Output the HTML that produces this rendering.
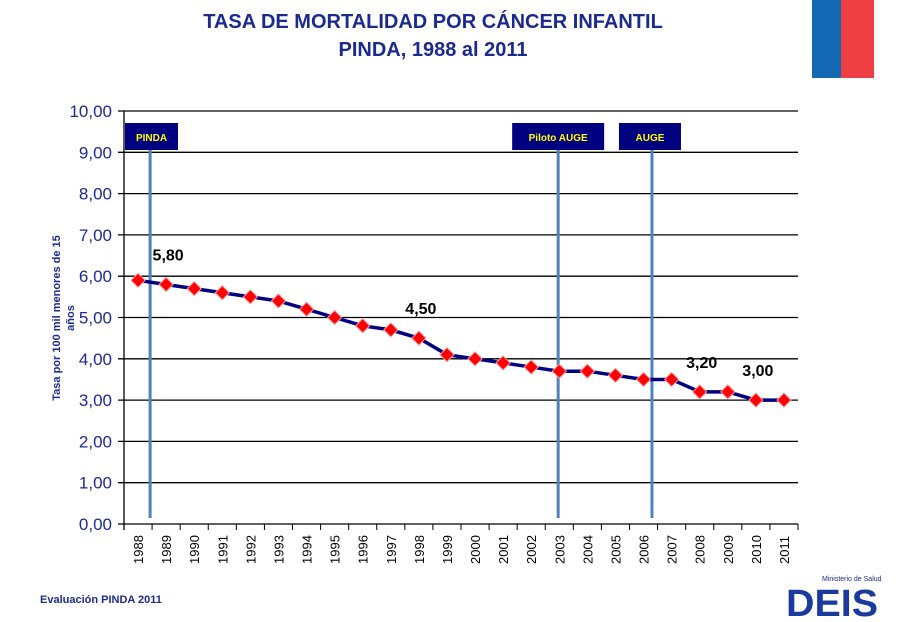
<!DOCTYPE html>
<html><head><meta charset="utf-8"><style>
body{margin:0;background:#fff;width:911px;height:617px;overflow:hidden;font-family:"Liberation Sans",sans-serif}
</style></head><body>
<svg width="911" height="617" xmlns="http://www.w3.org/2000/svg">
<rect x="812" y="0" width="29" height="78" fill="#1268b3"/>
<rect x="841" y="0" width="33" height="78" fill="#ee3e42"/>
<text x="433" y="28" text-anchor="middle" font-size="20" font-weight="bold" fill="#1b2a8f">TASA DE MORTALIDAD POR CÁNCER INFANTIL</text>
<text x="433" y="56" text-anchor="middle" font-size="20" font-weight="bold" fill="#1b2a8f">PINDA, 1988 al 2011</text>
<g id="grid"></g><g id="plot"></g>
<text transform="translate(60,318) rotate(-90)" text-anchor="middle" font-size="11" font-weight="bold" fill="#1b2a8f">Tasa por 100 mil menores de 15</text>
<text transform="translate(74,318) rotate(-90)" text-anchor="middle" font-size="11" font-weight="bold" fill="#1b2a8f">años</text>
<text x="40" y="603" font-size="11" font-weight="bold" fill="#1b2a8f">Evaluación PINDA 2011</text>
<g>
<text x="822" y="581" font-size="7" fill="#1b2a8f">Ministerio de Salud</text>
<text x="786" y="616" font-size="38" font-weight="bold" fill="#1b3a9e" textLength="92" lengthAdjust="spacingAndGlyphs">DEIS</text>
</g>
</svg>
<script>
const years=["1988","1989","1990","1991","1992","1993","1994","1995","1996","1997","1998","1999","2000","2001","2002","2003","2004","2005","2006","2007","2008","2009","2010","2011"];
const rates=[5.9,5.8,5.7,5.6,5.5,5.4,5.2,5.0,4.8,4.7,4.5,4.1,4.0,3.9,3.8,3.7,3.7,3.6,3.5,3.5,3.2,3.2,3.0,3.0];
const yTicks=[0,1,2,3,4,5,6,7,8,9,10];
const labelIdx=[1,10,20,22];
const labelTexts=["5,80","4,50","3,20","3,00"];
const markers=["PINDA","Piloto AUGE","AUGE"];
const markerPos=[0.43,14.96,18.3];
const NS="http://www.w3.org/2000/svg";
const L=124,R=798,T=111,B=524,cw=(R-L)/years.length;
const x=i=>L+cw*(i+0.5), y=v=>B-(v/10)*(B-T);
function mk(t,a,p){const e=document.createElementNS(NS,t);for(const k in a)e.setAttribute(k,a[k]);p.appendChild(e);return e;}
const g=document.getElementById('grid'),p=document.getElementById('plot');
yTicks.forEach(v=>{
 const l=mk('line',{x1:118,x2:R,y1:y(v),y2:y(v),stroke:'#000','stroke-width':1.3},g);
 
 
 const t=mk('text',{x:112,y:y(v)+6,'text-anchor':'end','font-size':17,fill:'#1b2a8f'},g);
 t.textContent=v.toFixed(2).replace('.',',');
 
 
});
const ax=mk('line',{x1:L,x2:L,y1:T,y2:B+6,stroke:'#000','stroke-width':1.3},g);


years.forEach((yr,i)=>{
 const tk=mk('line',{x1:L+cw*(i+1),x2:L+cw*(i+1),y1:B,y2:B+6,stroke:'#000'},g);
 
 
 const t=mk('text',{transform:`translate(${x(i)+5},${B+40}) rotate(-90)`,'font-size':13,fill:'#000'},g);
 t.textContent=yr;
 
 
});
markers.forEach((m,k)=>{
 const px=x(markerPos[k]);
 const ln=mk('line',{x1:px,x2:px,y1:150,y2:518,stroke:'#4f81bd','stroke-width':3},p);
 
 
 const w=m.length>6?92:62;
 const bx=m==='PINDA'?L+1:px-46;
 const r=mk('rect',{x:m==='PINDA'?L+1:(m==='AUGE'?px-33:px-46),y:123,width:m==='AUGE'?62:(m==='PINDA'?53:92),height:27,fill:'#000080'},p);
 
 
 const t=mk('text',{x:+r.getAttribute('x')+ +r.getAttribute('width')/2,y:141,'text-anchor':'middle','font-size':10,'font-weight':'bold',fill:'#ffff00'},p);
 t.textContent=m;
 
 
});
const pl=mk('polyline',{points:rates.map((v,i)=>x(i)+','+y(v)).join(' '),fill:'none',stroke:'#000080','stroke-width':3.5},p);


rates.forEach((v,i)=>{
 const cx=x(i),cy=y(v);
 const d=mk('polygon',{points:`${cx},${cy-7} ${cx+7},${cy} ${cx},${cy+7} ${cx-7},${cy}`,fill:'#ff0000',stroke:'#ff9999','stroke-width':1},p);
 
 
});
labelIdx.forEach((i,k)=>{
 const t=mk('text',{x:x(i)+2,y:y(rates[i])-24,'text-anchor':'middle','font-size':16,'font-weight':'bold',fill:'#000'},p);
 t.textContent=labelTexts[k];
 
 
});
</script>
</body></html>
